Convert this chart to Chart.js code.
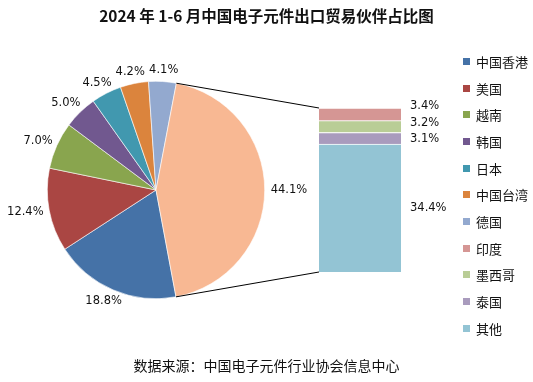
<!DOCTYPE html>
<html>
<head>
<meta charset="utf-8">
<script src="https://cdn.jsdelivr.net/npm/chart.js@4/dist/chart.umd.min.js"></script>
<style>
  html, body { margin: 0; padding: 0; background: #fff; }
  #wrap { position: relative; width: 533px; height: 382px; overflow: hidden; font-family: "Noto Sans CJK SC", "DejaVu Sans", sans-serif; }
  canvas { position: absolute; left: 0; top: 0; }
  #title { position: absolute; left: 0; width: 533px; top: 5px; text-align: center; font-size: 15.5px; font-weight: bold; color: #111; line-height: 20px; }
  #source { position: absolute; left: 0; width: 533px; top: 355px; text-align: center; font-size: 14px; color: #111; line-height: 20px; }
  #legend { position: absolute; left: 463px; top: 48px; }
  .li { height: 26.7px; display: flex; align-items: center; font-size: 13px; color: #111; white-space: nowrap; }
  .sw { width: 7px; height: 7px; margin-right: 6px; }
</style>
</head>
<body>
<div id="wrap">
  <canvas id="pie" width="533" height="382"></canvas>
  <canvas id="bar" width="533" height="382"></canvas>
  <div id="title">2024 年 1-6 月中国电子元件出口贸易伙伴占比图</div>
  <div id="source">数据来源：中国电子元件行业协会信息中心</div>
  <div id="legend"></div>
</div>
<script>
// Pie: main categories (last one is the slice that is broken out into the bar)
const pieLabels = ["中国香港", "美国", "越南", "韩国", "日本", "中国台湾", "德国", "其余"];
const pieValues = [18.8, 12.4, 7.0, 5.0, 4.5, 4.2, 4.1, 44.1];
const pieColors = ["#4572A7", "#AA4643", "#89A54E", "#71588F", "#4198AF", "#DB843D", "#93A9CF", "#F8B893"];

// Bar: breakdown of the broken-out slice (bottom to top)
const barLabels = ["其他", "泰国", "墨西哥", "印度"];
const barValues = [34.4, 3.1, 3.2, 3.4];
const barColors = ["#93C4D4", "#A99BBD", "#B9CD96", "#D59694"];

// Legend order
const legendLabels = ["中国香港", "美国", "越南", "韩国", "日本", "中国台湾", "德国", "印度", "墨西哥", "泰国", "其他"];
const legendColors = ["#4572A7", "#AA4643", "#89A54E", "#71588F", "#4198AF", "#DB843D", "#93A9CF", "#D59694", "#B9CD96", "#A99BBD", "#93C4D4"];

const labelFont = '11.5px "DejaVu Sans", sans-serif';

// legend
const lg = document.getElementById('legend');
legendLabels.forEach((l, i) => {
  const d = document.createElement('div'); d.className = 'li';
  const s = document.createElement('div'); s.className = 'sw'; s.style.background = legendColors[i];
  const t = document.createElement('span'); t.textContent = l;
  d.appendChild(s); d.appendChild(t); lg.appendChild(d);
});

const pieLabelPlugin = {
  id: 'pieLabels',
  afterDatasetsDraw(chart) {
    const ctx = chart.ctx;
    const meta = chart.getDatasetMeta(0);
    ctx.save();
    ctx.font = labelFont;
    ctx.fillStyle = '#111';
    ctx.textAlign = 'center';
    ctx.textBaseline = 'middle';
    meta.data.forEach((arc, i) => {
      const p = arc.getProps(['x', 'y', 'startAngle', 'endAngle', 'outerRadius'], true);
      const mid = (p.startAngle + p.endAngle) / 2;
      const c = Math.cos(mid), s = Math.sin(mid);
      const txt = pieValues[i].toFixed(1) + '%';
      const w = ctx.measureText(txt).width;
      const r = p.outerRadius + 6;
      const x = p.x + r * c + c * w / 2;
      const y = p.y + r * s + s * 6;
      ctx.fillText(txt, x, y);
    });
    ctx.restore();
  }
};

const pieChart = new Chart(document.getElementById('pie'), {
  type: 'pie',
  data: {
    labels: pieLabels,
    datasets: [{ data: pieValues, backgroundColor: pieColors, borderColor: '#ffffff', borderWidth: 0.6 }]
  },
  options: {
    responsive: false,
    animation: false,
    rotation: 169.4,
    layout: { padding: { left: 47, top: 81, right: 268, bottom: 83 } },
    plugins: { legend: { display: false }, tooltip: { enabled: false }, title: { display: false } }
  },
  plugins: [pieLabelPlugin]
});

const barLabelOffsets = [0, 1, -4, -8];
const barPlugin = {
  id: 'barExtras',
  afterDatasetsDraw(chart) {
    const ctx = chart.ctx;
    ctx.save();
    ctx.font = labelFont;
    ctx.fillStyle = '#111';
    ctx.textAlign = 'left';
    ctx.textBaseline = 'middle';
    barValues.forEach((v, i) => {
      const el = chart.getDatasetMeta(i).data[0];
      const p = el.getProps(['x', 'y', 'base', 'width'], true);
      const yc = (p.y + p.base) / 2 + barLabelOffsets[i];
      ctx.fillText(v.toFixed(1) + '%', p.x + p.width / 2 + 9, yc);
    });
    // connector lines from the broken-out slice to the bar
    const arc = pieChart.getDatasetMeta(0).data[pieValues.length - 1];
    const a = arc.getProps(['x', 'y', 'startAngle', 'endAngle', 'outerRadius'], true);
    const topEl = chart.getDatasetMeta(barValues.length - 1).data[0].getProps(['x', 'y', 'width'], true);
    const botEl = chart.getDatasetMeta(0).data[0].getProps(['x', 'base', 'width'], true);
    const left = topEl.x - topEl.width / 2;
    ctx.strokeStyle = '#000';
    ctx.lineWidth = 1;
    ctx.beginPath();
    ctx.moveTo(a.x + a.outerRadius * Math.cos(a.startAngle), a.y + a.outerRadius * Math.sin(a.startAngle));
    ctx.lineTo(left, topEl.y);
    ctx.moveTo(a.x + a.outerRadius * Math.cos(a.endAngle), a.y + a.outerRadius * Math.sin(a.endAngle));
    ctx.lineTo(left, botEl.base);
    ctx.stroke();
    ctx.restore();
  }
};

new Chart(document.getElementById('bar'), {
  type: 'bar',
  data: {
    labels: [''],
    datasets: barValues.map((v, i) => ({
      label: barLabels[i],
      data: [v],
      backgroundColor: barColors[i],
      borderColor: '#ffffff',
      borderWidth: { top: 1, left: 0, right: 0, bottom: 0 },
      borderSkipped: false,
      barPercentage: 1,
      categoryPercentage: 1
    }))
  },
  options: {
    responsive: false,
    animation: false,
    layout: { padding: { left: 319, right: 132, top: 108, bottom: 110 } },
    scales: {
      x: { stacked: true, display: false },
      y: { stacked: true, display: false, min: 0, max: barValues.reduce((a, b) => a + b, 0) }
    },
    plugins: { legend: { display: false }, tooltip: { enabled: false }, title: { display: false } }
  },
  plugins: [barPlugin]
});
</script>
</body>
</html>
